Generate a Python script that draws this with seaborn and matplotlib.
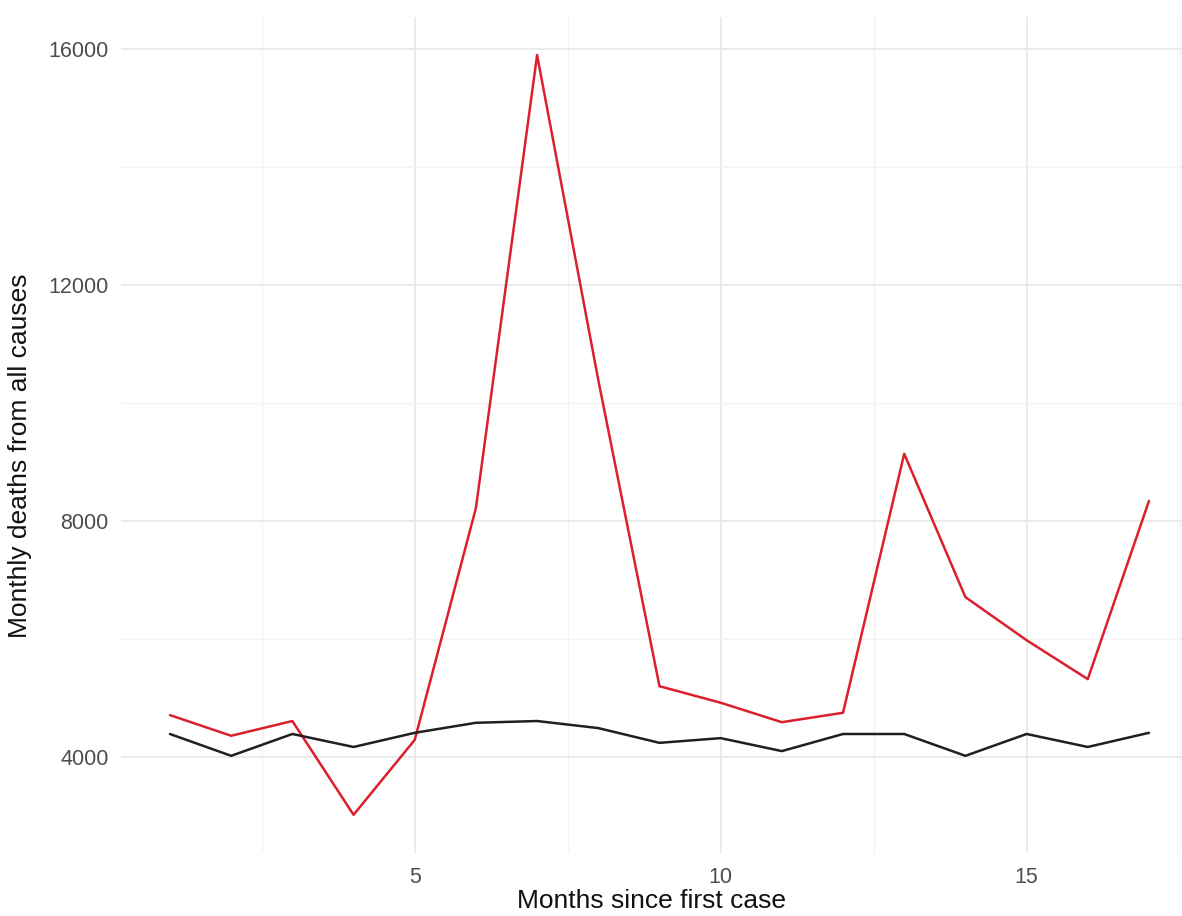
import numpy as np
import pandas as pd
import matplotlib
matplotlib.use("Agg")
import matplotlib.pyplot as plt
import seaborn as sns

# --- Data ---
months = list(range(1, 18))
deaths_observed = [4710, 4360, 4610, 3020, 4290, 8220, 15900, 10390, 5200,
                   4920, 4590, 4750, 9140, 6710, 5980, 5320, 8340]
deaths_expected = [4390, 4020, 4390, 4170, 4410, 4580, 4610, 4490, 4240,
                   4320, 4100, 4390, 4390, 4020, 4390, 4170, 4410]

df = pd.DataFrame({
    'month': months * 2,
    'deaths': deaths_observed + deaths_expected,
    'series': ['observed'] * len(months) + ['expected'] * len(months),
})

# --- Plot ---
sns.set_theme(style='white')
plt.rcParams['font.family'] = ['Liberation Sans', 'DejaVu Sans']

fig = plt.figure(figsize=(11.82, 9.16), dpi=100)
ax = fig.add_axes([0.1024, 0.0688, 0.8976, 0.9126])

sns.lineplot(data=df, x='month', y='deaths', hue='series',
             palette={'observed': '#dc1f2c', 'expected': '#1f1f1f'},
             linewidth=1.8, legend=False, ax=ax, zorder=3)

ax.set_xlim(0.2, 17.54)
ax.set_ylim(2373, 16544)
ax.set_xticks([5, 10, 15])
ax.set_xticks([2.5, 7.5, 12.5, 17.5], minor=True)
ax.set_yticks([4000, 8000, 12000, 16000])
ax.set_yticks([6000, 10000, 14000], minor=True)
ax.grid(which='major', color='#ebebeb', linewidth=1.4)
ax.grid(which='minor', color='#f3f3f3', linewidth=0.9)
ax.set_axisbelow(True)
for s in ax.spines.values():
    s.set_visible(False)
ax.tick_params(which='both', length=0, labelsize=15.5, labelcolor='#4d4d4d')
ax.tick_params(axis='y', pad=9)
ax.tick_params(axis='x', pad=10)

ax.set_xlabel('Months since first case', fontsize=19, color='#111111', labelpad=1)
ax.set_ylabel('Monthly deaths from all causes', fontsize=19, color='#111111')
ax.yaxis.set_label_coords(-0.084, 0.475)

fig.savefig('out.png', dpi=100)
